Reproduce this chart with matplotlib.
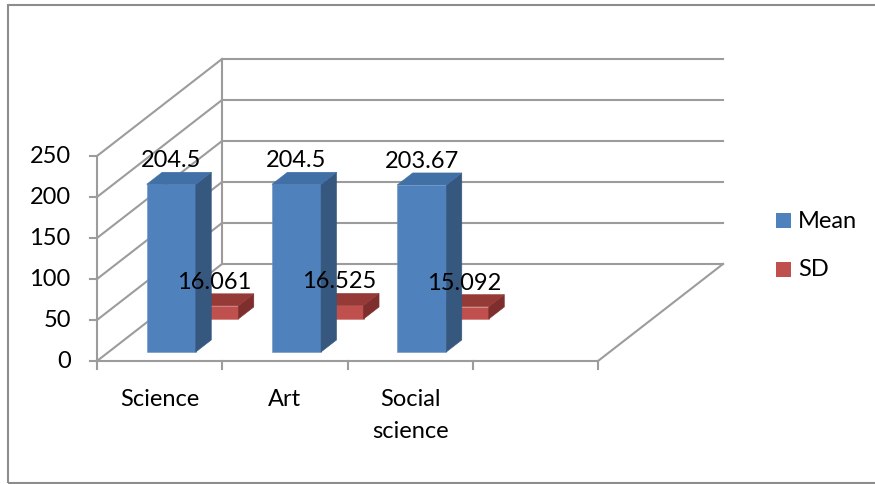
"""Mean and SD by stream, drawn as an Excel-style 3D column chart."""
import matplotlib
matplotlib.use("Agg")
import matplotlib.pyplot as plt
from matplotlib.patches import Polygon, Rectangle

plt.rcParams["font.family"] = ["Lato", "DejaVu Sans"]

categories = ["Science", "Art", "Social\nscience"]
mean_vals = [204.5, 204.5, 203.67]
sd_vals = [16.061, 16.525, 15.092]
series_names = ["Mean", "SD"]
y_ticks = [0, 50, 100, 150, 200, 250]

# layout of the fake 3d box (data units: x = category slot, y = value)
N_SLOTS = 4            # one empty slot at the right, as in the source
DX, DY = 0.998, 118.3  # screen offset of the back wall
HALF_W = 0.196
ROWS = [(0.093, 0.217), (0.433, 0.557)]   # depth range of each series
FACES = {
    "Mean": ("#4F81BD", "#36587F", "#4170A6", "#6d8fc0"),
    "SD": ("#C0504D", "#7E2E2C", "#953A37", "#d07270"),
}
GRID = "#9c9c9c"
LW = 1.5
FS = 17


def proj(x, y, d):
    return (x + d * DX, y + d * DY)


def draw_bar(ax, xc, val, d0, d1, colors):
    front, side, top, edge = colors
    x0, x1 = xc - HALF_W, xc + HALF_W
    ax.add_patch(Polygon([proj(x0, 0, d0), proj(x1, 0, d0),
                          proj(x1, val, d0), proj(x0, val, d0)],
                         closed=True, fc=front, ec=edge, lw=0.4, zorder=3))
    ax.add_patch(Polygon([proj(x1, 0, d0), proj(x1, 0, d1),
                          proj(x1, val, d1), proj(x1, val, d0)],
                         closed=True, fc=side, ec=side, lw=0.4, zorder=3))
    ax.add_patch(Polygon([proj(x0, val, d0), proj(x1, val, d0),
                          proj(x1, val, d1), proj(x0, val, d1)],
                         closed=True, fc=top, ec=top, lw=0.4, zorder=3))


fig = plt.figure(figsize=(8.75, 4.85), dpi=100)
ax = fig.add_axes([0, 0, 1, 1])
ax.set_xlim(-97 / 125.25, (875 - 97) / 125.25)
ax.set_ylim((362 - 485) / 0.82, 362 / 0.82)
ax.axis("off")

# outer chart border
fig.patches.append(Rectangle((8 / 875, 1 - 484 / 485), 1.2, 478 / 485,
                             transform=fig.transFigure, fill=False,
                             ec="#8c8c8c", lw=1.5, zorder=0))

# walls and gridlines
for v in y_ticks:
    ax.plot(*zip(proj(0, v, 0), proj(0, v, 1)), color=GRID, lw=LW, zorder=1)
    ax.plot(*zip(proj(0, v, 1), proj(N_SLOTS, v, 1)), color=GRID, lw=LW, zorder=1)
    ax.plot([-0.056, 0], [v, v], color=GRID, lw=LW, zorder=1)
    ax.text(-0.21, v, str(v), ha="right", va="center", fontsize=FS)
ax.plot(*zip(proj(0, 0, 1), proj(0, y_ticks[-1], 1)), color=GRID, lw=LW, zorder=1)
ax.plot([0, 0], [0, y_ticks[-1]], color=GRID, lw=LW, zorder=1)
ax.plot([0, N_SLOTS], [0, 0], color=GRID, lw=LW, zorder=1)
ax.plot(*zip(proj(N_SLOTS, 0, 0), proj(N_SLOTS, 0, 1)), color=GRID, lw=LW, zorder=1)
for k in range(N_SLOTS + 1):
    ax.plot([k, k], [0, -10], color=GRID, lw=LW, zorder=1)

for i, lab in enumerate(categories):
    ax.text(i + 0.5, -33, lab, ha="center", va="top", fontsize=FS,
            linespacing=1.62)

# bars: back row (SD) first so the front row covers it
for name, vals, (d0, d1) in reversed(list(zip(series_names, [mean_vals, sd_vals], ROWS))):
    for i, v in enumerate(vals):
        draw_bar(ax, i + 0.5, v, d0, d1, FACES[name])
        ax.annotate(f"{v:g}", xy=(proj(i + 0.5, v, d0)[0], proj(0, v, d1)[1]),
                    xytext=(0, 4.3), textcoords="offset points",
                    ha="center", va="baseline", fontsize=FS, zorder=5)

# legend
for j, name in enumerate(series_names):
    y = 221.5 + j * 48.5
    fig.patches.append(Rectangle((776 / 875, 1 - (y + 7.5) / 485), 15 / 875, 15 / 485,
                                 transform=fig.transFigure, fc=FACES[name][0],
                                 ec="none"))
    fig.text(798 / 875, 1 - y / 485, name, ha="left", va="center", fontsize=FS)

fig.savefig("out.png", dpi=100)
